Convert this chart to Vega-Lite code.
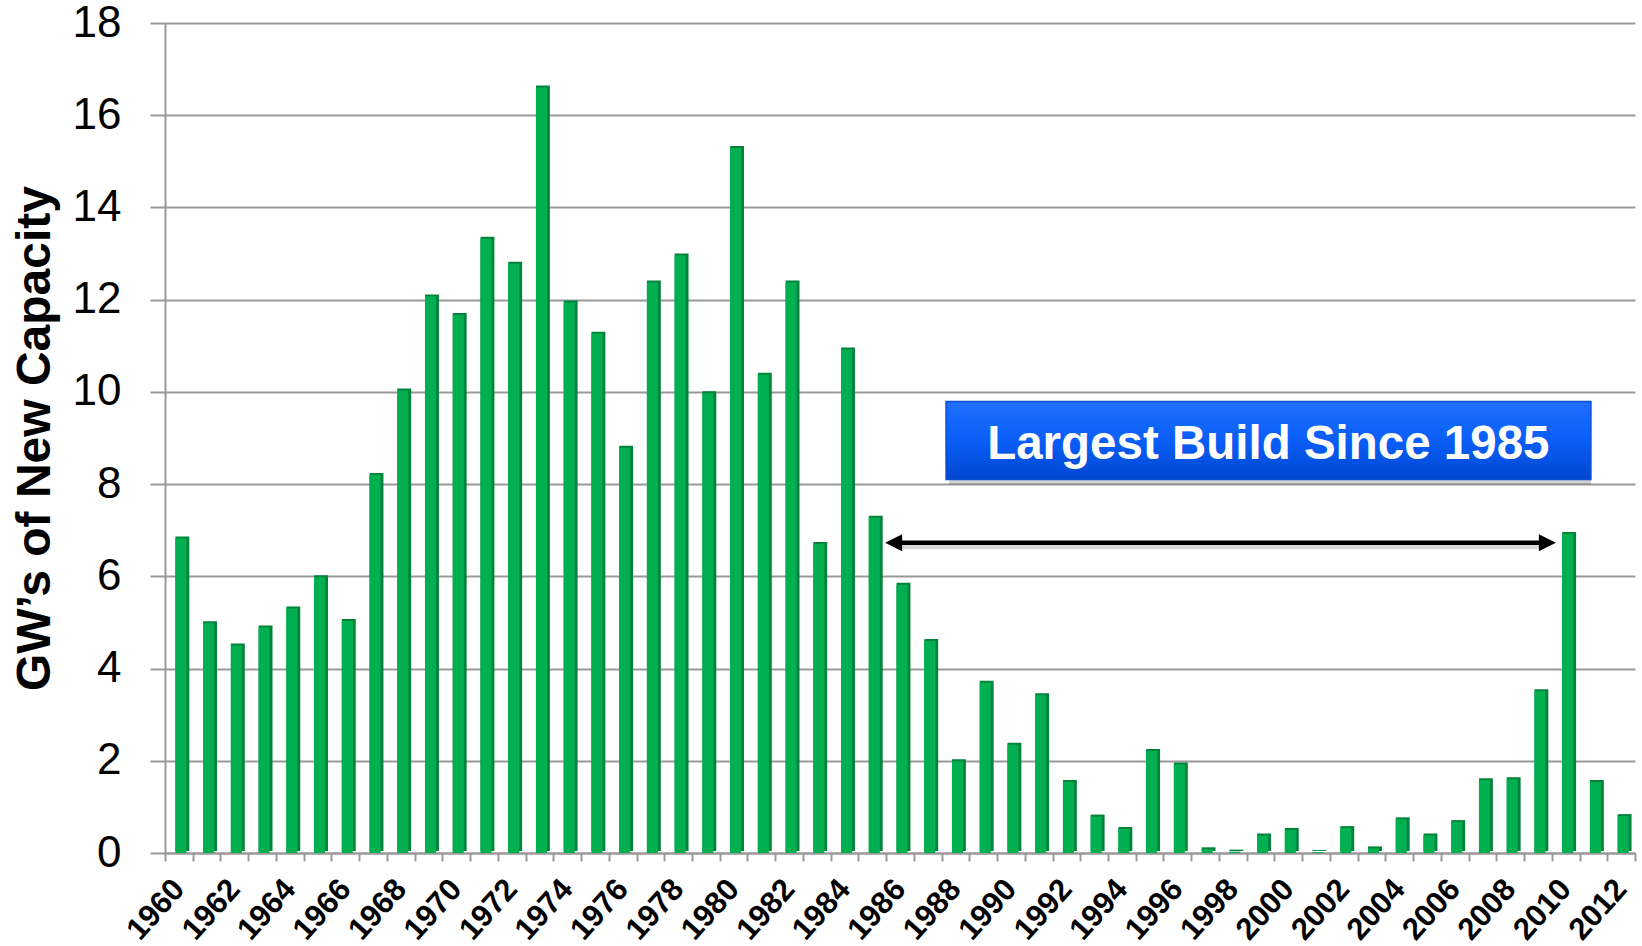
{
  "$schema": "https://vega.github.io/schema/vega-lite/v6.json",
  "width": 1470,
  "height": 830,
  "autosize": {"type": "none"},
  "padding": {"left": 165, "top": 23, "right": 7, "bottom": 93},
  "background": "white",
  "config": {
    "view": {"stroke": null},
    "font": "Liberation Sans",
    "axisX": {
      "labelAngle": -48,
      "labelAlign": "right",
      "labelBaseline": "middle",
      "labelFont": "Liberation Sans",
      "labelFontSize": 31,
      "labelFontWeight": "bold",
      "labelColor": "#000000",
      "labelPadding": 23,
      "labelOverlap": false,
      "tickBand": "extent",
      "tickSize": 8,
      "tickColor": "#999999",
      "tickWidth": 2,
      "domainColor": "#999999",
      "domainWidth": 2,
      "grid": false
    }
  },
  "datasets": {
    "capacity": [
      {"year": 1960, "gw": 6.82}, {"year": 1961, "gw": 4.98}, {"year": 1962, "gw": 4.5}, {"year": 1963, "gw": 4.89},
      {"year": 1964, "gw": 5.3}, {"year": 1965, "gw": 5.98}, {"year": 1966, "gw": 5.03}, {"year": 1967, "gw": 8.2},
      {"year": 1968, "gw": 10.03}, {"year": 1969, "gw": 12.07}, {"year": 1970, "gw": 11.67}, {"year": 1971, "gw": 13.32},
      {"year": 1972, "gw": 12.78}, {"year": 1973, "gw": 16.6}, {"year": 1974, "gw": 11.94}, {"year": 1975, "gw": 11.26},
      {"year": 1976, "gw": 8.79}, {"year": 1977, "gw": 12.37}, {"year": 1978, "gw": 12.96}, {"year": 1979, "gw": 9.97},
      {"year": 1980, "gw": 15.29}, {"year": 1981, "gw": 10.37}, {"year": 1982, "gw": 12.37}, {"year": 1983, "gw": 6.7},
      {"year": 1984, "gw": 10.92}, {"year": 1985, "gw": 7.27}, {"year": 1986, "gw": 5.82}, {"year": 1987, "gw": 4.6},
      {"year": 1988, "gw": 1.99}, {"year": 1989, "gw": 3.69}, {"year": 1990, "gw": 2.35}, {"year": 1991, "gw": 3.42},
      {"year": 1992, "gw": 1.54}, {"year": 1993, "gw": 0.79}, {"year": 1994, "gw": 0.52}, {"year": 1995, "gw": 2.21},
      {"year": 1996, "gw": 1.92}, {"year": 1997, "gw": 0.08}, {"year": 1998, "gw": 0.03}, {"year": 1999, "gw": 0.38},
      {"year": 2000, "gw": 0.5}, {"year": 2001, "gw": 0.02}, {"year": 2002, "gw": 0.54}, {"year": 2003, "gw": 0.1},
      {"year": 2004, "gw": 0.73}, {"year": 2005, "gw": 0.38}, {"year": 2006, "gw": 0.67}, {"year": 2007, "gw": 1.58},
      {"year": 2008, "gw": 1.6}, {"year": 2009, "gw": 3.51}, {"year": 2010, "gw": 6.92}, {"year": 2011, "gw": 1.54},
      {"year": 2012, "gw": 0.8}
    ],
    "box": [{"x1": 1987.66, "x2": 2010.91, "gw": 8.1, "gw2": 9.79}],
    "label": [{"x": 1999.28, "gw": 8.545, "text": "Largest Build Since 1985"}],
    "shaft": [{"x1": 1985.9, "x2": 2009.2, "gw": 6.73}],
    "heads": [
      {"x": 1985.77, "gw": 6.73, "dir": "left"},
      {"x": 2009.34, "gw": 6.73, "dir": "right"}
    ]
  },
  "resolve": {"scale": {"x": "independent"}, "axis": {"x": "independent"}},
  "layer": [
    {
      "data": {"name": "capacity"},
      "encoding": {
        "x": {
          "field": "year", "type": "ordinal",
          "scale": {"paddingInner": 0, "paddingOuter": 0},
          "axis": {
            "title": null,
            "labelExpr": "datum.value % 2 == 0 ? datum.label : ''",
            "labelAngle": -48,
            "labelFontSize": 31
          }
        },
        "y": {
          "field": "gw", "type": "quantitative",
          "scale": {"domain": [0, 18], "nice": false},
          "axis": {
            "title": "GW’s of New Capacity",
            "titleFont": "Liberation Sans",
            "titleFontSize": 48,
            "titleFontWeight": "bold",
            "titleColor": "#000000",
            "titleAngle": -90,
            "titleX": -130,
            "titleY": 415,
            "titleAlign": "center",
            "titleBaseline": "middle",
            "values": [0, 2, 4, 6, 8, 10, 12, 14, 16, 18],
            "labelFont": "Liberation Sans",
            "labelFontSize": 44,
            "labelColor": "#000000",
            "labelPadding": 29,
            "tickSize": 15,
            "tickColor": "#999999",
            "tickWidth": 2,
            "domainColor": "#999999",
            "domainWidth": 2,
            "grid": true,
            "gridColor": "#999999",
            "gridWidth": 2
          }
        }
      },
      "layer": [
        {"mark": {"type": "bar", "color": "#00843A", "width": {"band": 0.5}, "xOffset": 3.5, "yOffset": -2}},
        {"mark": {"type": "bar", "color": "#00B050", "width": {"band": 0.4}, "xOffset": 2}}
      ]
    },
    {
      "encoding": {
        "x": {"field": "x1", "type": "quantitative", "scale": {"domain": [1959.5, 2012.5], "nice": false, "zero": false}, "axis": null},
        "y": {"field": "gw", "type": "quantitative"}
      },
      "layer": [
        {
          "data": {"name": "box"},
          "mark": {"type": "rect", "color": "#000000", "opacity": 0.18, "xOffset": 3, "yOffset": 5},
          "encoding": {"x2": {"field": "x2"}, "y2": {"field": "gw2"}}
        },
        {
          "data": {"name": "box"},
          "mark": {
            "type": "rect",
            "stroke": "#0A4FD0",
            "strokeWidth": 1.5,
            "fill": {
              "gradient": "linear", "x1": 0, "y1": 0, "x2": 0, "y2": 1,
              "stops": [
                {"offset": 0, "color": "#1F6FFF"},
                {"offset": 0.5, "color": "#0A5EF7"},
                {"offset": 1, "color": "#0046CF"}
              ]
            }
          },
          "encoding": {"x2": {"field": "x2"}, "y2": {"field": "gw2"}}
        },
        {
          "data": {"name": "label"},
          "mark": {"type": "text", "color": "#FFFFFF", "font": "Liberation Sans", "fontSize": 47.5, "fontWeight": "bold", "align": "center", "baseline": "alphabetic"},
          "encoding": {
            "x": {"field": "x", "type": "quantitative"},
            "text": {"field": "text"}
          }
        },
        {
          "data": {"name": "shaft"},
          "mark": {"type": "rule", "color": "#000000", "opacity": 0.15, "strokeWidth": 5, "yOffset": 4},
          "encoding": {"x2": {"field": "x2"}}
        },
        {
          "data": {"name": "shaft"},
          "mark": {"type": "rule", "color": "#000000", "strokeWidth": 4.5},
          "encoding": {"x2": {"field": "x2"}}
        },
        {
          "data": {"name": "heads"},
          "transform": [{"filter": "datum.dir == 'left'"}],
          "mark": {"type": "point", "shape": "M1,-1L-1,0L1,1Z", "size": 289, "filled": true, "color": "#000000", "opacity": 1},
          "encoding": {"x": {"field": "x", "type": "quantitative"}}
        },
        {
          "data": {"name": "heads"},
          "transform": [{"filter": "datum.dir == 'right'"}],
          "mark": {"type": "point", "shape": "M-1,-1L1,0L-1,1Z", "size": 289, "filled": true, "color": "#000000", "opacity": 1},
          "encoding": {"x": {"field": "x", "type": "quantitative"}}
        }
      ]
    }
  ]
}
